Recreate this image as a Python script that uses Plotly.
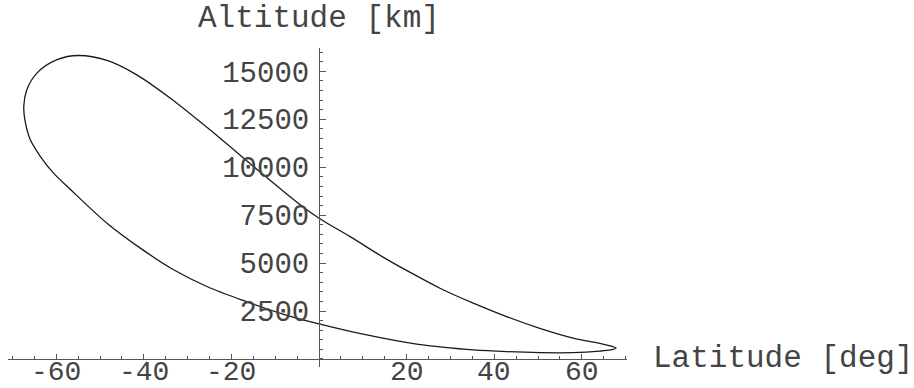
import plotly.graph_objects as go

# Upper branch: from the right tip, going up-left around the top of the loop
lat_upper = [67.8, 66.5, 64.1, 58.0, 50.4, 42.8, 35.2, 27.6, 22.3, 14.7, 7.1, 0.0, -4.3,
             -13.5, -24.9, -34.0, -41.6, -48.4, -54.9, -59.8, -64.4, -66.7, -67.4]
alt_upper = [560, 680, 810, 1090, 1600, 2210, 2910, 3690, 4330, 5300, 6380, 7340, 8040,
             9760, 11950, 13610, 14820, 15570, 15830, 15610, 14910, 14040, 13170]
# Lower branch: from the left edge back down towards the right tip
lat_lower = [-67.0, -65.9, -63.6, -60.6, -56.8, -48.4, -40.8, -33.2, -25.6, -17.3,
             -8.1, 0.0, 10.9, 22.3, 27.6, 35.2, 42.8, 50.4, 58.0, 64.1, 66.5]
alt_lower = [12300, 11430, 10560, 9690, 8850, 7080, 5780, 4650, 3780, 3050,
             2330, 1830, 1250, 770, 630, 470, 380, 330, 330, 410, 470]

x_ticks = [-60, -40, -20, 20, 40, 60]
x_tick_text = ["-60", "-40", "-20", "20", "40", "60"]
y_ticks = [2500, 5000, 7500, 10000, 12500, 15000]
y_tick_text = ["2500", "5000", "7500", "10000", "12500", "15000"]

# closed loop, started on the smooth upper branch so the tip is drawn rounded
k = lat_upper.index(0.0)
lat = lat_upper[k:] + lat_lower + lat_upper[:k + 1]
alt = alt_upper[k:] + alt_lower + alt_upper[:k + 1]

XR = [-71, 70.3]
YR = [-420, 16220]

FONT = "Liberation Mono"
TXT = "#444444"
AX = "#555555"

fig = go.Figure()
fig.add_trace(go.Scatter(x=lat, y=alt, mode="lines",
                         line=dict(color="#1a1a1a", width=1.3, shape="spline", smoothing=0.9),
                         hoverinfo="skip", showlegend=False))

annotations = [
    dict(text="Altitude [km]", xref="x", x=0, yref="paper", y=1,
         xanchor="center", yanchor="middle", yshift=30, showarrow=False,
         font=dict(family=FONT, size=31, color=TXT)),
    dict(text="Latitude [deg]", xref="paper", x=1, yref="y", y=0,
         xanchor="left", yanchor="middle", xshift=24, showarrow=False,
         font=dict(family=FONT, size=31, color=TXT)),
]
for v, t in zip(x_ticks, x_tick_text):
    annotations.append(dict(text=t, xref="x", x=v, yref="y", y=0,
                            xanchor="center", yanchor="middle", yshift=-14,
                            showarrow=False,
                            font=dict(family=FONT, size=28, color=TXT)))

fig.update_layout(
    width=914, height=388,
    margin=dict(l=8, r=287, t=48, b=21, autoexpand=False),
    paper_bgcolor="white", plot_bgcolor="white",
    xaxis=dict(range=XR, domain=[0, 1], anchor="free", automargin=False,
               position=(0 - YR[0]) / (YR[1] - YR[0]),
               showgrid=False, zeroline=False, showline=True,
               linecolor=AX, linewidth=1,
               tickmode="array", tickvals=x_ticks, showticklabels=False,
               ticks="inside", ticklen=5, tickcolor=AX, tickwidth=1,
               minor=dict(dtick=5, tick0=0, ticks="inside", ticklen=3,
                          tickcolor=AX, tickwidth=1)),
    yaxis=dict(range=YR, domain=[0, 1], anchor="free", automargin=False,
               position=(0 - XR[0]) / (XR[1] - XR[0]),
               showgrid=False, zeroline=False, showline=True,
               linecolor=AX, linewidth=1,
               tickmode="array", tickvals=y_ticks, ticktext=y_tick_text,
               ticks="inside", ticklen=6, tickcolor=AX, tickwidth=1,
               ticklabelstandoff=4,
               minor=dict(dtick=500, tick0=0, ticks="inside", ticklen=3,
                          tickcolor=AX, tickwidth=1),
               tickfont=dict(family=FONT, size=29, color=TXT)),
    annotations=annotations,
)

fig.write_html("out.html")
